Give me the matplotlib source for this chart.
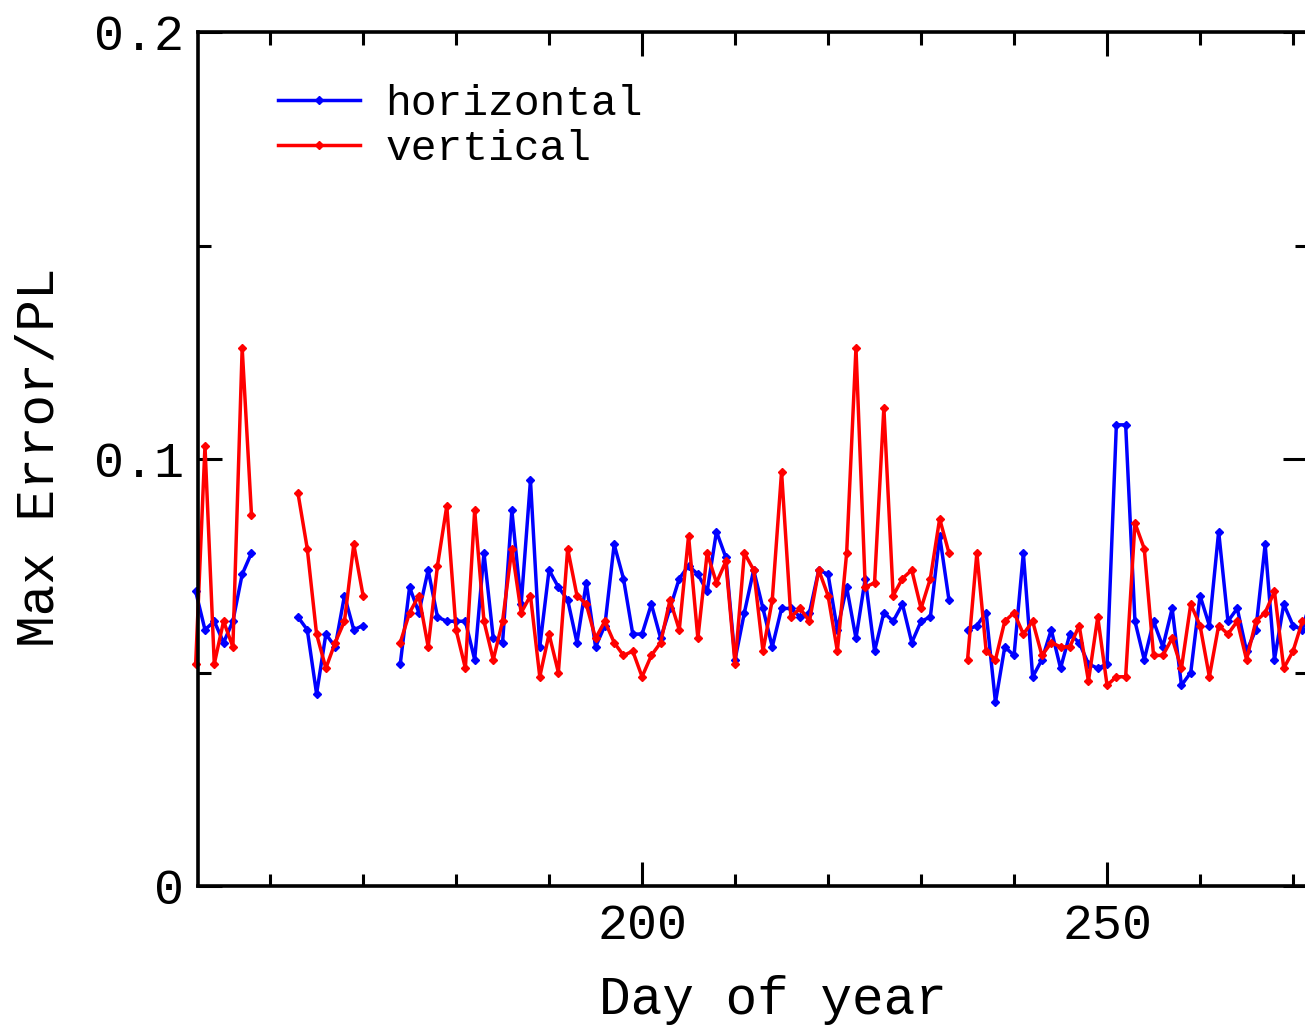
import numpy as np
import matplotlib
matplotlib.use("Agg")
import matplotlib.pyplot as plt
from matplotlib.ticker import MultipleLocator, FixedLocator

plt.rcParams["font.family"] = ["Liberation Mono", "DejaVu Sans Mono"]

nan = np.nan

# day of year, 152 .. 272 (nan = no data that day)
DAYS = np.arange(152, 273)

HORIZONTAL = [
    0.069, 0.060, 0.062, 0.057, 0.062, 0.073, 0.078,          # 152-158
    nan, nan, nan, nan,                                       # 159-162
    0.063, 0.060, 0.045, 0.059, 0.056, 0.068, 0.060, 0.061,   # 163-170
    nan, nan, nan,                                            # 171-173
    0.052, 0.070, 0.064, 0.074, 0.063, 0.062, 0.062, 0.062, 0.053, 0.078,
    0.058, 0.057, 0.088, 0.066, 0.095, 0.056, 0.074, 0.070, 0.067, 0.057,
    0.071, 0.056, 0.061, 0.080, 0.072, 0.059, 0.059,          # 174-200
    0.066, 0.058, 0.065, 0.072, 0.075, 0.073, 0.069, 0.083, 0.077, 0.053,
    0.064, 0.074, 0.065, 0.056, 0.065, 0.065, 0.063, 0.064, 0.074, 0.073,
    0.060, 0.070, 0.058, 0.072, 0.055, 0.064, 0.062, 0.066, 0.057, 0.062,
    0.063, 0.082, 0.067,                                      # 201-233
    nan,                                                      # 234
    0.060, 0.061, 0.064, 0.043, 0.056, 0.054, 0.078, 0.049, 0.053, 0.060,
    0.051, 0.059, 0.057, 0.052, 0.051, 0.052, 0.108, 0.108, 0.062, 0.053,
    0.062, 0.056, 0.065, 0.047, 0.050, 0.068, 0.061, 0.083, 0.062, 0.065,
    0.055, 0.060, 0.080, 0.053, 0.066, 0.061, 0.060, 0.068,   # 235-272
]

VERTICAL = [
    0.052, 0.103, 0.052, 0.062, 0.056, 0.126, 0.087,
    nan, nan, nan, nan,
    0.092, 0.079, 0.059, 0.051, 0.057, 0.062, 0.080, 0.068,
    nan, nan, nan,
    0.057, 0.064, 0.068, 0.056, 0.075, 0.089, 0.060, 0.051, 0.088, 0.062,
    0.053, 0.062, 0.079, 0.064, 0.068, 0.049, 0.059, 0.050, 0.079, 0.068,
    0.066, 0.058, 0.062, 0.057, 0.054, 0.055, 0.049,
    0.054, 0.057, 0.067, 0.060, 0.082, 0.058, 0.078, 0.071, 0.076, 0.052,
    0.078, 0.074, 0.055, 0.067, 0.097, 0.063, 0.065, 0.062, 0.074, 0.068,
    0.055, 0.078, 0.126, 0.070, 0.071, 0.112, 0.068, 0.072, 0.074, 0.065,
    0.072, 0.086, 0.078,
    nan,
    0.053, 0.078, 0.055, 0.053, 0.062, 0.064, 0.059, 0.062, 0.054, 0.057,
    0.056, 0.056, 0.061, 0.048, 0.063, 0.047, 0.049, 0.049, 0.085, 0.079,
    0.054, 0.054, 0.058, 0.051, 0.066, 0.061, 0.049, 0.061, 0.059, 0.062,
    0.053, 0.062, 0.064, 0.069, 0.051, 0.055, 0.062, 0.062,
]

LABELS = ["horizontal", "vertical"]
COLORS = ["#0000ff", "#ff0000"]

W, H = 1305, 1027
fig = plt.figure(figsize=(W / 100, H / 100), dpi=100)
# axes box in pixels: left 198, right ~1307 (just past the crop), top 32, bottom 886
ax = fig.add_axes([198 / W, (H - 886) / H, (1307 - 198) / W, (886 - 32) / H])

for vals, lab, col in zip([HORIZONTAL, VERTICAL], LABELS, COLORS):
    ax.plot(DAYS, np.array(vals, dtype=float), color=col, lw=2.5, marker="D",
            markersize=4.2, label=lab, clip_on=False)

ax.set_xlim(152.25, 271.5)
ax.set_ylim(0, 0.2)

ax.xaxis.set_major_locator(FixedLocator([200, 250]))
ax.xaxis.set_minor_locator(MultipleLocator(10))
ax.yaxis.set_major_locator(FixedLocator([0, 0.1, 0.2]))
ax.yaxis.set_minor_locator(FixedLocator([0.05, 0.15]))
ax.set_yticklabels(["0", "0.1", "0.2"])

ax.tick_params(which="both", direction="in", top=True, right=True,
               width=2.2, labelsize=36, colors="black")
ax.tick_params(which="major", length=17)
ax.tick_params(which="minor", length=9)
ax.tick_params(axis="x", pad=12)
ax.tick_params(axis="y", pad=10)

for s in ax.spines.values():
    s.set_linewidth(2.6)

ax.set_xlabel("Day of year", fontsize=38)
ax.set_ylabel("Max Error/PL", fontsize=38)
# label centres (px 773 / px 40)
ax.xaxis.set_label_coords((773 - 198) / 1109, -(1000 - 886) / 854, transform=ax.transAxes)
ax.xaxis.label.set_va("center")
ax.yaxis.set_label_coords(-(198 - 40) / 1109, (886 - 457) / 854, transform=ax.transAxes)
ax.yaxis.label.set_va("center")

leg = ax.legend(loc="upper left", bbox_to_anchor=(0.072, 0.939), frameon=False,
                fontsize=31, handlelength=1.9, handletextpad=0.6,
                labelspacing=0.12, borderpad=0, borderaxespad=0)

fig.savefig("out.png", dpi=100)
